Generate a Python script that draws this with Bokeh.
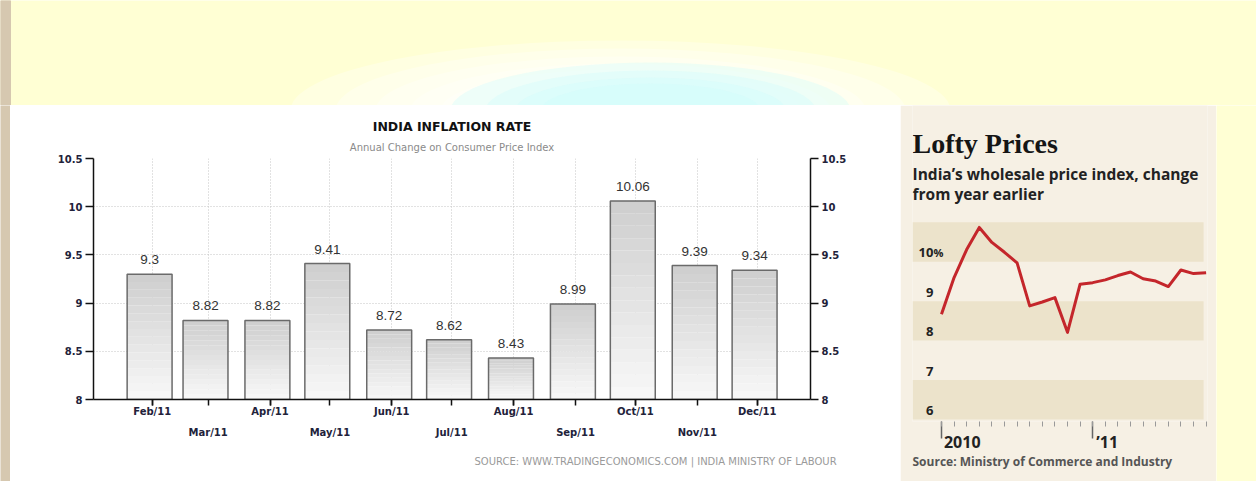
import numpy as np
import pandas as pd
from bokeh.plotting import figure
from bokeh.models import (FixedTicker, LinearAxis, Range1d, Title, Grid,
                          NumeralTickFormatter)
from bokeh.layouts import column, row
from bokeh.embed import file_html
from bokeh.resources import INLINE
from bokeh.core.properties import value

# ---------------- data: India CPI inflation (left chart) ----------------
cpi_months = ["2011-02", "2011-03", "2011-04", "2011-05", "2011-06", "2011-07",
              "2011-08", "2011-09", "2011-10", "2011-11", "2011-12"]
cpi_labels = ["Feb/11", "Mar/11", "Apr/11", "May/11", "Jun/11", "Jul/11",
              "Aug/11", "Sep/11", "Oct/11", "Nov/11", "Dec/11"]
cpi_values = [9.3, 8.82, 8.82, 9.41, 8.72, 8.62, 8.43, 8.99, 10.06, 9.39, 9.34]
cpi_yticks = [8, 8.5, 9, 9.5, 10, 10.5]

# ---------------- data: India WPI (right chart) ----------------
wpi_months = ["2010-01", "2010-02", "2010-03", "2010-04", "2010-05", "2010-06",
              "2010-07", "2010-08", "2010-09", "2010-10", "2010-11", "2010-12",
              "2011-01", "2011-02", "2011-03", "2011-04", "2011-05", "2011-06",
              "2011-07", "2011-08", "2011-09", "2011-10"]
wpi_values = [8.67, 9.6, 10.31, 10.87, 10.49, 10.24, 9.97, 8.88, 8.98, 9.09, 8.21,
              9.43, 9.47, 9.54, 9.65, 9.74, 9.57, 9.51, 9.37, 9.79, 9.70, 9.72]
wpi_yticks = [10, 9, 8, 7, 6]
wpi_year_ticks = [0, 12]
wpi_year_labels = ["2010", "\u201911"]

# ---------------- styles ----------------
YELLOW = "#FFFFD4"
TAN = "#D6C8B0"
PANEL = "#F6F0E4"
BAND = "#ECE3CB"
AXIS_TXT = "#22223a"
NBSP = "\u00a0"
BAR_SHIFT = -1.3   # bars sit slightly left of the month ticks (days)


def no_align(fig):
    try:
        fig.frame_align = False
    except Exception:
        pass
    return fig


def blank(w, h, color):
    f = figure(width=w, height=h, x_range=Range1d(0, 1), y_range=Range1d(0, 1),
               output_backend="svg", toolbar_location=None, title=None,
               x_axis_type=None, y_axis_type=None, min_border=0)
    f.background_fill_color = color
    f.border_fill_color = color
    f.outline_line_color = None
    return no_align(f)


# ================= banner (top yellow strip) =================
banner = figure(width=1256, height=105, x_range=Range1d(0, 1256), y_range=Range1d(105, 0),
                output_backend="svg", toolbar_location=None, title=None,
                x_axis_type=None, y_axis_type=None, min_border=0)
banner.background_fill_color = YELLOW
banner.border_fill_color = YELLOW
banner.outline_line_color = None
no_align(banner)
banner.quad(left=0, right=10, top=0, bottom=105, color=TAN)
for w, h in [(660, 140), (570, 124), (490, 108), (420, 94), (360, 82)]:
    banner.ellipse(x=620, y=110, width=w, height=h, color="white", alpha=0.3, line_color=None)
for w, h in [(400, 96), (330, 80), (270, 66), (220, 54)]:
    banner.ellipse(x=650, y=110, width=w, height=h, color="#CFFBFB", alpha=0.35, line_color=None)

# ================= left chart =================
BASE = pd.Timestamp("2011-01-01")
cx = [(pd.Timestamp(m + "-01") - BASE).days for m in cpi_months]
bx = [d + BAR_SHIFT for d in cx]

left = figure(width=890, height=376, x_range=Range1d(1.6, 360.7), y_range=Range1d(8, 10.5),
              output_backend="svg", toolbar_location=None, title=None,
              x_axis_type=None, y_axis_type=None,
              min_border_left=83, min_border_right=90, min_border_top=53, min_border_bottom=82)
left.background_fill_color = "white"
left.border_fill_color = "white"
left.outline_line_color = None
no_align(left)

gx = Grid(dimension=0, ticker=FixedTicker(ticks=cx), grid_line_color="#c4c4c4",
          grid_line_dash="1 2", grid_line_width=1)
gy = Grid(dimension=1, ticker=FixedTicker(ticks=cpi_yticks), grid_line_color="#c4c4c4",
          grid_line_dash="1 2", grid_line_width=1)
left.add_layout(gx)
left.add_layout(gy)

# gradient bars built from slices of each bar
base = left.y_range.start
N = 16
light = np.array([249, 249, 249])
dark = np.array([206, 206, 206])
sx, sb, st, sc = [], [], [], []
for x, v in zip(bx, cpi_values):
    for k in range(N):
        f = (k + 0.5) / N
        c = (light + (dark - light) * f).astype(int)
        sx.append(x)
        sb.append(base + (v - base) * k / N)
        st.append(base + (v - base) * (k + 1) / N)
        sc.append("#%02x%02x%02x" % tuple(c))
left.vbar(x=sx, bottom=sb, top=st, width=22.5, fill_color=sc, line_color=None)
left.vbar(x=bx, bottom=base, top=cpi_values, width=22.5, fill_color=None,
          line_color="#6a6a6a", line_width=1.5)

left.text(x=bx, y=cpi_values, text=[f"{v:g}" for v in cpi_values],
          text_align="center", text_baseline="bottom", y_offset=-10,
          text_font=value("Liberation Sans"), text_font_size="13.5px",
          text_color="#333333")


def style_y(ax):
    ax.axis_line_color = "#111111"
    ax.axis_line_width = 1.5
    ax.major_tick_out = 8
    ax.major_tick_in = 0
    ax.major_tick_line_color = "#111111"
    ax.major_tick_line_width = 1.5
    ax.minor_tick_out = 0
    ax.minor_tick_in = 0
    ax.major_label_standoff = 3
    ax.major_label_text_font = "DejaVu Sans"
    ax.major_label_text_font_style = "bold"
    ax.major_label_text_font_size = "10px"
    ax.major_label_text_color = AXIS_TXT


ax_l = LinearAxis(ticker=FixedTicker(ticks=cpi_yticks), formatter=NumeralTickFormatter(format="0.[0]"))
style_y(ax_l)
left.add_layout(ax_l, "left")
ax_r = LinearAxis(ticker=FixedTicker(ticks=cpi_yticks), formatter=NumeralTickFormatter(format="0.[0]"))
style_y(ax_r)
left.add_layout(ax_r, "right")

even_x, even_l = cx[0::2], cpi_labels[0::2]
odd_x, odd_l = cx[1::2], cpi_labels[1::2]

ax_b1 = LinearAxis(ticker=FixedTicker(ticks=even_x, minor_ticks=cx),
                   major_label_overrides={d: lab for d, lab in zip(even_x, even_l)})
ax_b1.axis_line_color = "#111111"
ax_b1.axis_line_width = 1.5
for kind in ("major", "minor"):
    setattr(ax_b1, f"{kind}_tick_out", 6)
    setattr(ax_b1, f"{kind}_tick_in", 0)
    setattr(ax_b1, f"{kind}_tick_line_color", "#111111")
    setattr(ax_b1, f"{kind}_tick_line_width", 1.5)
ax_b1.major_label_standoff = 0
ax_b1.major_label_text_font = "DejaVu Sans"
ax_b1.major_label_text_font_style = "bold"
ax_b1.major_label_text_font_size = "10px"
ax_b1.major_label_text_color = AXIS_TXT
left.add_layout(ax_b1, "below")

ax_b2 = LinearAxis(ticker=FixedTicker(ticks=odd_x),
                   major_label_overrides={d: lab for d, lab in zip(odd_x, odd_l)})
ax_b2.axis_line_color = None
ax_b2.major_tick_out = 0
ax_b2.major_tick_in = 0
ax_b2.minor_tick_out = 0
ax_b2.minor_tick_in = 0
ax_b2.major_label_standoff = 7
ax_b2.major_label_text_font = "DejaVu Sans"
ax_b2.major_label_text_font_style = "bold"
ax_b2.major_label_text_font_size = "10px"
ax_b2.major_label_text_color = AXIS_TXT
left.add_layout(ax_b2, "below")

left.add_layout(Title(text="Annual Change on Consumer Price Index", align="center",
                      text_font="DejaVu Sans", text_font_style="normal",
                      text_font_size="10px", text_color="#8a8a8a", standoff=12), "above")
left.add_layout(Title(text="INDIA INFLATION RATE", align="center",
                      text_font="DejaVu Sans", text_font_style="bold",
                      text_font_size="12.5px", text_color="#111111", standoff=0), "above")
left.add_layout(Title(text="SOURCE:  WWW.TRADINGECONOMICS.COM  |  INDIA MINISTRY  OF  LABOUR",
                      align="right", offset=-42,
                      text_font="DejaVu Sans", text_font_style="normal",
                      text_font_size="10px", text_color="#9a9a9a", standoff=26), "below")

# ================= right chart =================
mx = [(int(m[:4]) - 2010) * 12 + int(m[5:]) - 1 for m in wpi_months]
R_X0, R_X1 = -2.30, 21.11
R_Y0, R_Y1 = 5.949, 13.962

right = figure(width=316, height=376, x_range=Range1d(R_X0, R_X1), y_range=Range1d(R_Y0, R_Y1),
               output_backend="svg", toolbar_location=None, title=None,
               x_axis_type=None, y_axis_type=None,
               min_border_left=12, min_border_right=9, min_border_top=0, min_border_bottom=60)
right.background_fill_color = PANEL
right.border_fill_color = PANEL
right.outline_line_color = None
no_align(right)

band_lo = [10, 8, 6]
right.hbar(y=[b + 0.5 for b in band_lo], height=1, left=R_X0, right=20.8,
           fill_color=BAND, line_color=None)

right.line(mx, wpi_values, line_color="#C4262B", line_width=3, line_join="round")

right.text(x=-0.64, y=wpi_yticks, text=[f"{t:g}" for t in wpi_yticks],
           text_align="right", text_baseline="middle", y_offset=-9,
           text_font=value("Open Sans"), text_font_style="bold", text_font_size="13px",
           text_color="#222222")
right.text(x=-0.64, y=wpi_yticks[:1], text=["%"],
           text_align="left", text_baseline="middle", y_offset=-9,
           text_font=value("Open Sans"), text_font_style="bold", text_font_size="11px",
           text_color="#222222")

# headings (inside the panel, above the bands)
right.text(x=R_X0, y=[12.99], text=["Lofty Prices"], text_align="left",
           text_baseline="middle", text_font=value("Liberation Serif"),
           text_font_style="bold", text_font_size="28px", text_color="#151515")
right.text(x=R_X0, y=[12.22, 11.72],
           text=["India\u2019s wholesale price index, change", "from year earlier"],
           text_align="left", text_baseline="middle", text_font=value("Open Sans"),
           text_font_style="bold", text_font_size="15.5px", text_color="#222222")

pad = [10, 7]
rb1 = LinearAxis(ticker=FixedTicker(ticks=wpi_year_ticks, minor_ticks=mx),
                 major_label_overrides={t: NBSP * n + lab
                                        for t, n, lab in zip(wpi_year_ticks, pad, wpi_year_labels)})
rb1.axis_line_color = None
rb1.major_tick_out = 17
rb1.major_tick_in = 0
rb1.major_tick_line_color = "#666666"
rb1.major_tick_line_width = 1.5
rb1.minor_tick_out = 5
rb1.minor_tick_in = 0
rb1.minor_tick_line_color = "#999999"
rb1.minor_tick_line_width = 1
rb1.major_label_standoff = -8
rb1.major_label_text_font = "Open Sans"
rb1.major_label_text_font_style = "bold"
rb1.major_label_text_font_size = "16px"
rb1.major_label_text_color = "#222222"
right.add_layout(rb1, "below")

right.add_layout(Title(text="Source: Ministry of Commerce and Industry", align="left",
                       text_font="Open Sans", text_font_style="bold",
                       text_font_size="12px", text_color="#555555", standoff=-9), "below")

# ================= side strips =================
tan = blank(10, 376, TAN)
strip = blank(40, 376, YELLOW)

bottom = row(column(tan), column(left), column(right), column(strip), spacing=0)
layout = column(banner, bottom, spacing=0)

open("out.html", "w").write(file_html(layout, INLINE, "India inflation"))
